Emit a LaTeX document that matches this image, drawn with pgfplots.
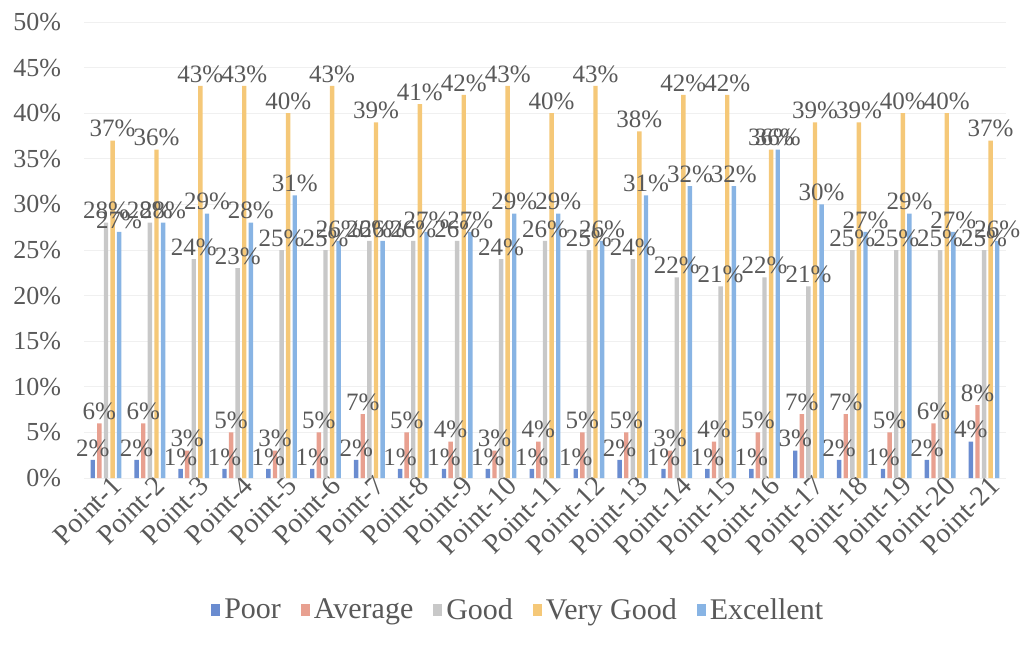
\documentclass[border=0pt]{standalone}
\usepackage{pgfplots}
\pgfplotsset{compat=1.18}
\usepackage{pgfplotstable}
\usepackage{fontspec}
\setmainfont{Liberation Serif}
\definecolor{cPoor}{HTML}{6A8CD0}
\definecolor{cAvg}{HTML}{E8A090}
\definecolor{cGood}{HTML}{C8C8C8}
\definecolor{cVG}{HTML}{F5C878}
\definecolor{cExc}{HTML}{88B4E4}
\definecolor{txt}{HTML}{595959}
\pgfplotstableread{
x poor avg good vg exc
0 2 6 28 37 27
1 2 6 28 36 28
2 1 3 24 43 29
3 1 5 23 43 28
4 1 3 25 40 31
5 1 5 25 43 26
6 2 7 26 39 26
7 1 5 26 41 27
8 1 4 26 42 27
9 1 3 24 43 29
10 1 4 26 40 29
11 1 5 25 43 26
12 2 5 24 38 31
13 1 3 22 42 32
14 1 4 21 42 32
15 1 5 22 36 36
16 3 7 21 39 30
17 2 7 25 39 27
18 1 5 25 40 29
19 2 6 25 40 27
20 4 8 25 37 26
}\data
\begin{document}
\begin{tikzpicture}
\path[use as bounding box] (-42pt,-83pt) rectangle (470pt,239pt);
\begin{axis}[
  at={(0pt,0pt)}, anchor=south west,
  scale only axis, width=461pt, height=228pt,
  ybar=1.1pt, bar width=2.2pt,
  xmin=-0.5, xmax=20.5, ymin=0, ymax=50,
  xtick=data,
  xticklabels={Point-1,Point-2,Point-3,Point-4,Point-5,Point-6,Point-7,Point-8,Point-9,Point-10,Point-11,Point-12,Point-13,Point-14,Point-15,Point-16,Point-17,Point-18,Point-19,Point-20,Point-21},
  xticklabel style={rotate=45, anchor=east, font=\fontsize{14}{15}\selectfont, text=txt, xshift=6pt, yshift=-5pt},
  ytick={0,5,...,50},
  yticklabel={\pgfmathprintnumber{\tick}\%},
  yticklabel style={font=\fontsize{13}{14}\selectfont, text=txt, xshift=-8pt},
  /pgf/number format/assume math mode=true,
  axis line style={draw=none},
  major tick length=0pt,
  ymajorgrids, grid style={draw=black!6},
  nodes near coords={\pgfmathprintnumber{\pgfplotspointmeta}\%},
  nodes near coords style={font=\fontsize{12.5}{13}\selectfont, text=txt, inner sep=1.5pt},
  legend style={at={(0.472,-0.29)}, anchor=center, draw=none, legend columns=-1,
    font=\fontsize{15}{16}\selectfont, text=txt,
    /tikz/every even column/.append style={column sep=8pt}},
  legend image code/.code={\fill[#1] (0pt,-3pt) rectangle (4.5pt,3pt);},
]
\addplot[fill=cPoor, draw=none] table[x=x,y=poor]{\data};
\addplot[fill=cAvg, draw=none] table[x=x,y=avg]{\data};
\addplot[fill=cGood, draw=none] table[x=x,y=good]{\data};
\addplot[fill=cVG, draw=none] table[x=x,y=vg]{\data};
\addplot[fill=cExc, draw=none] table[x=x,y=exc]{\data};
\legend{Poor,Average,Good,Very Good,Excellent}
\end{axis}
\end{tikzpicture}
\end{document}
